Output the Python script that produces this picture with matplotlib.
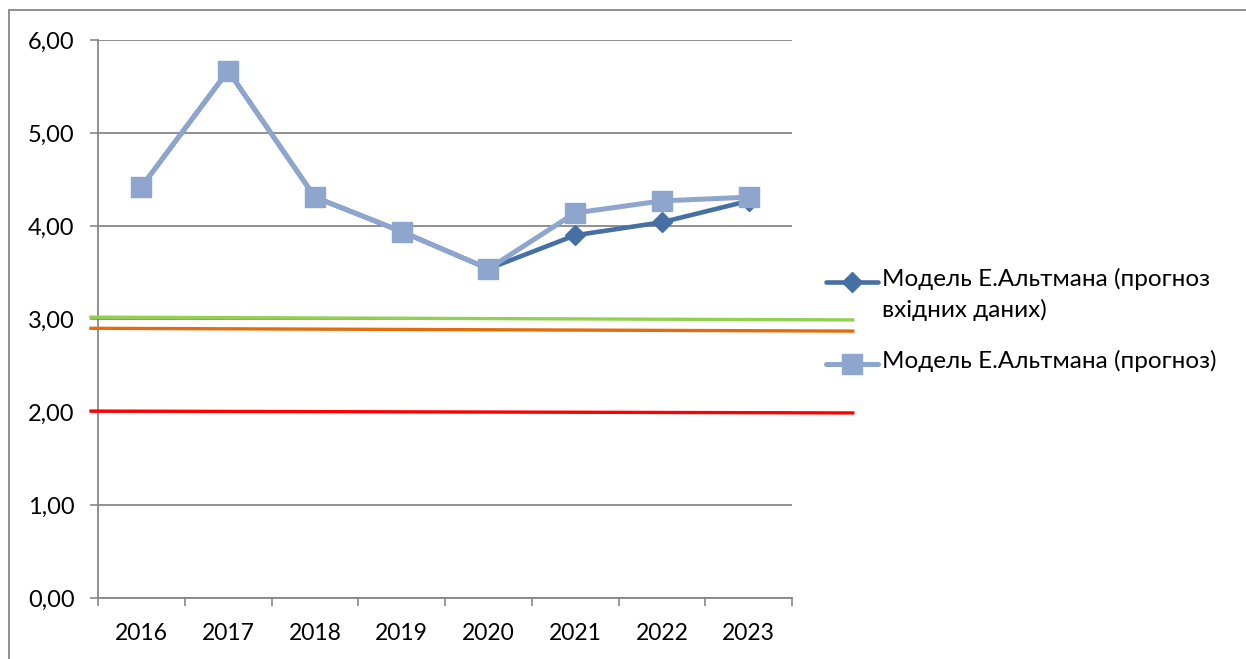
import numpy as np
import matplotlib.pyplot as plt
from matplotlib.lines import Line2D
from matplotlib.patches import Rectangle

# Дані
years = ["2016", "2017", "2018", "2019", "2020", "2021", "2022", "2023"]
altman_input = [4.42, 5.67, 4.31, 3.94, 3.54, 3.90, 4.04, 4.27]
altman_forecast = [4.42, 5.67, 4.31, 3.94, 3.54, 4.14, 4.27, 4.31]

label_input = "Модель Е.Альтмана (прогноз\nвхідних даних)"
label_forecast = "Модель Е.Альтмана (прогноз)"

# рівні-орієнтири (намальовані лініями поверх графіка), початок і кінець
ref_start = [3.02, 2.90, 2.01]
ref_end = [2.99, 2.87, 1.99]
ref_colors = ["#92D050", "#E46C0A", "#FF0000"]

dark = "#4570A3"
light = "#8EA5CD"
grid_col = "#878787"

plt.rcParams['font.family'] = ['Lato', 'DejaVu Sans']

W, H = 1246, 659
fig = plt.figure(figsize=(W / 100, H / 100), dpi=100)
ax = fig.add_axes([98 / W, 1 - 598 / H, (792 - 98) / W, (598 - 40) / H])

x = np.arange(len(years))

# зовнішня рамка
fig.add_artist(Rectangle((9 / W, -0.2), 2, 1.2 - 10 / H, transform=fig.transFigure,
                         fill=False, ec=grid_col, lw=1.3))

ax.plot(x, altman_input, color=dark, lw=3.3, marker="D", ms=10, zorder=3,
        solid_joinstyle="round")
ax.plot(x, altman_forecast, color=light, lw=3.6, marker="s", ms=14, zorder=4,
        solid_joinstyle="round")

# лінії-орієнтири виходять за межі області графіка
x0, x1 = -0.60, 8.22
for s, e, c in zip(ref_start, ref_end, ref_colors):
    ax.plot([x0, x1], [s, e], color=c, lw=2.4, clip_on=False, zorder=5,
            solid_capstyle="butt")

ax.set_xlim(-0.5, len(years) - 0.5)
ax.set_ylim(0, 6)
ax.set_yticks(np.arange(0, 7, 1))
ax.set_yticklabels([f"{v:.2f}".replace(".", ",") for v in range(7)], fontsize=17)
ax.set_xticks(x)
ax.set_xticklabels(years, fontsize=16.5)
ax.set_xticks(np.arange(-0.5, len(years)), minor=True)
ax.tick_params(axis="x", which="major", length=0, pad=18)
ax.tick_params(axis="x", which="minor", length=6, color=grid_col, width=1.2, direction="out")
ax.tick_params(axis="y", length=6, color=grid_col, width=1.2, pad=11)
ax.grid(axis="y", color=grid_col, lw=1.3, zorder=0)

for sp in ["top", "right"]:
    ax.spines[sp].set_visible(False)
for sp in ["left", "bottom"]:
    ax.spines[sp].set_color(grid_col)
    ax.spines[sp].set_linewidth(1.3)

# легенда
def legend_item(y_px, color, marker, ms, lw, label):
    fig.add_artist(Line2D([826 / W, 878 / W], [1 - y_px / H] * 2, transform=fig.transFigure,
                          color=color, lw=lw, solid_capstyle="round"))
    fig.add_artist(Line2D([852 / W], [1 - y_px / H], transform=fig.transFigure,
                          color=color, marker=marker, ms=ms, lw=0))
    fig.text(882 / W, 1 - (y_px - 14) / H, label, fontsize=17.5, va="top", ha="left",
             linespacing=1.5)

legend_item(282, dark, "D", 10, 3.3, label_input)
legend_item(364, light, "s", 14, 3.6, label_forecast)

fig.savefig("out.png", dpi=100)
